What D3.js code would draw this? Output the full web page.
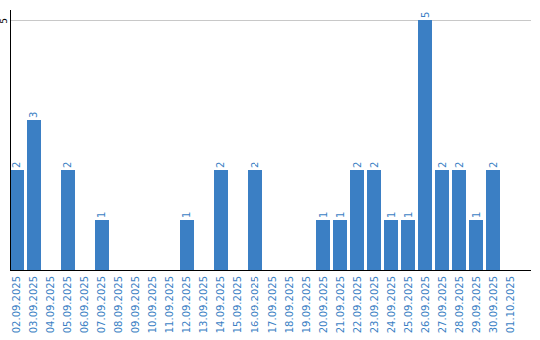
<!DOCTYPE html>
<html>
<head>
<meta charset="utf-8">
<script src="https://cdnjs.cloudflare.com/ajax/libs/d3/7.8.5/d3.min.js"></script>
<style>
body { margin: 0; background: #fff; }
text { font-family: "DejaVu Sans", sans-serif; }
</style>
</head>
<body>
<div id="chart"></div>
<script>
//data
var dates = ["02.09.2025", "03.09.2025", "04.09.2025", "05.09.2025", "06.09.2025", "07.09.2025",
  "08.09.2025", "09.09.2025", "10.09.2025", "11.09.2025", "12.09.2025", "13.09.2025",
  "14.09.2025", "15.09.2025", "16.09.2025", "17.09.2025", "18.09.2025", "19.09.2025",
  "20.09.2025", "21.09.2025", "22.09.2025", "23.09.2025", "24.09.2025", "25.09.2025",
  "26.09.2025", "27.09.2025", "28.09.2025", "29.09.2025", "30.09.2025", "01.10.2025"];
var counts = [2, 3, 0, 2, 0, 1, 0, 0, 0, 0, 1, 0, 2, 0, 2, 0, 0, 0, 1, 1, 2, 2, 1, 1, 5, 2, 2, 1, 2, 0];
var yTicks = [5];

var w = 540, h = 340;
var blue = "#3b7fc4";
var svg = d3.select("#chart").append("svg").attr("width", w).attr("height", h);

var x = d3.scaleBand().domain(dates).range([10, 517]).paddingInner(0.1765).paddingOuter(0);
var y = d3.scaleLinear().domain([0, 5]).range([270, 20]);

//gridline
svg.append("g").selectAll("line").data(yTicks).enter().append("line")
  .attr("x1", 10).attr("x2", 531)
  .attr("y1", function(d) { return y(d) + 0.5; })
  .attr("y2", function(d) { return y(d) + 0.5; })
  .attr("stroke", "#c8c8c8");

//y tick labels
svg.append("g").selectAll("text").data(yTicks).enter().append("text")
  .attr("transform", function(d) { return "translate(7," + (y(d) + 1) + ") rotate(-90)"; })
  .attr("text-anchor", "middle")
  .attr("font-size", 9)
  .attr("fill", "#000")
  .text(function(d) { return d; });

//bars
svg.append("g").selectAll("rect").data(counts).enter().append("rect")
  .attr("x", function(d, i) { return x(dates[i]); })
  .attr("width", x.bandwidth())
  .attr("y", function(d) { return y(d); })
  .attr("height", function(d) { return y(0) - y(d); })
  .attr("fill", blue);

//value labels (only non-zero bars)
var labelled = counts.map(function(d, i) { return {v: d, k: dates[i]}; })
  .filter(function(d) { return d.v > 0; });
svg.append("g").selectAll("text").data(labelled).enter().append("text")
  .attr("transform", function(d) { return "translate(" + (x(d.k) + x.bandwidth() / 2) + "," + (y(d.v) - 2) + ") rotate(-90)"; })
  .attr("dy", "0.35em")
  .attr("font-size", 10)
  .attr("fill", blue)
  .text(function(d) { return d.v; });

//axes lines
svg.append("line").attr("x1", 10.5).attr("x2", 10.5).attr("y1", 10).attr("y2", 270).attr("stroke", "#000");
svg.append("line").attr("x1", 10).attr("x2", 531).attr("y1", 270.5).attr("y2", 270.5).attr("stroke", "#000");

//x labels
svg.append("g").selectAll("text").data(dates).enter().append("text")
  .attr("transform", function(d) { return "translate(" + (x(d) + x.bandwidth() / 2) + ",276) rotate(-90)"; })
  .attr("text-anchor", "end")
  .attr("dy", "0.35em")
  .attr("font-size", 10)
  .attr("fill", blue)
  .text(function(d) { return d; });
</script>
</body>
</html>
